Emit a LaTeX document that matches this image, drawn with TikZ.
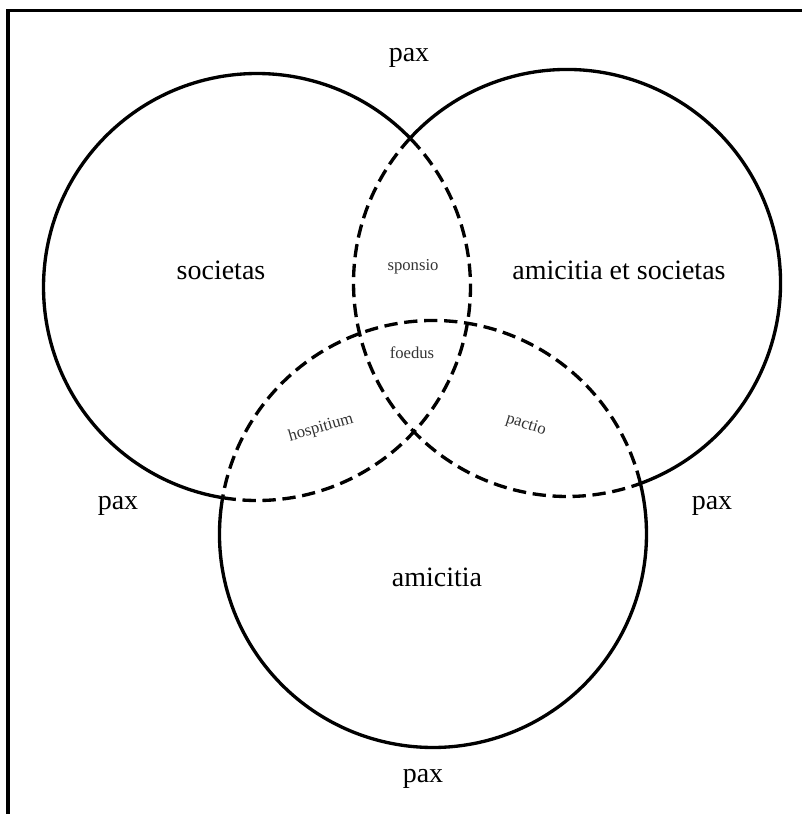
\documentclass[tikz,border=0pt]{standalone}
\usepackage{fontspec}
\setmainfont{Liberation Serif}
\begin{document}
\begin{tikzpicture}[x=0.75pt,y=0.75pt,
  ring/.style={line width=2.5pt},
  dashring/.style={line width=2.5pt,dash pattern=on 10pt off 5pt},
  bigtxt/.style={font=\fontsize{21}{24}\selectfont,inner sep=0pt},
  smalltxt/.style={font=\fontsize{12.5}{14}\selectfont,inner sep=0pt,text=black!80}]
\useasboundingbox (0,0) rectangle (802,814);
% frame
\draw[line width=2.9pt] (8,-5) -- (8,803.5) -- (807,803.5);
% centres
\coordinate (L) at (257,527);
\coordinate (R) at (567,531);
\coordinate (B) at (433,280);
\def\rr{213.5}
% left circle
\draw[ring] (L) ++(44.18:\rr) arc[start angle=44.18,end angle=260.73,radius=\rr];
\draw[dashring] (L) ++(260.73:\rr) arc[start angle=260.73,end angle=404.18,radius=\rr];
% right circle
\draw[ring] (R) ++(-69.9:\rr) arc[start angle=-69.9,end angle=137.3,radius=\rr];
\draw[dashring] (R) ++(137.3:\rr) arc[start angle=137.3,end angle=290.1,radius=\rr];
% bottom circle
\draw[ring] (B) ++(170.2:\rr) arc[start angle=170.2,end angle=373.68,radius=\rr];
\draw[dashring] (B) ++(13.68:\rr) arc[start angle=13.68,end angle=170.2,radius=\rr];
% labels
\node[bigtxt] (paxT) at (409,756) {pax};
\node[bigtxt] (soc) at (221,544) {societas};
\node[bigtxt] (amso) at (619,544) {amicitia et societas};
\node[bigtxt] (ami) at (437,237) {amicitia};
\node[bigtxt] (paxL) at (118,308) {pax};
\node[bigtxt] (paxR) at (712,308) {pax};
\node[bigtxt] (paxB) at (423,35) {pax};
\node[smalltxt] (spo) at (413,547) {sponsio};
\node[smalltxt] (foe) at (412,461) {foedus};
\node[smalltxt,rotate=16] (hos) at (321,386) {hospitium};
\node[smalltxt,rotate=-18] (pac) at (526,389) {pactio};
\end{tikzpicture}
\end{document}
